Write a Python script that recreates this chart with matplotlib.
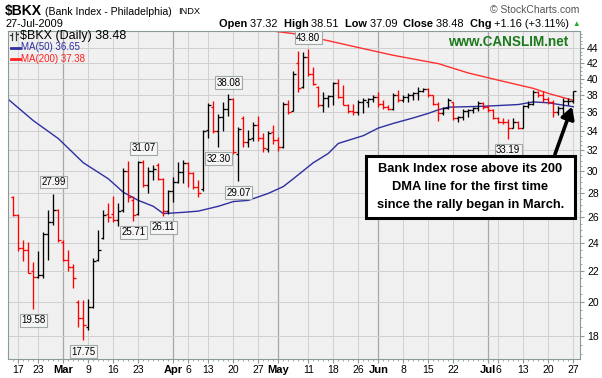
import numpy as np
import pandas as pd
import matplotlib
matplotlib.use("Agg")
import matplotlib.pyplot as plt
from matplotlib.patches import Rectangle, FancyArrowPatch
from matplotlib.lines import Line2D

plt.rcParams['font.family'] = ['Liberation Sans', 'DejaVu Sans']

# --- data ---
holidays = ["2009-02-16", "2009-04-10", "2009-05-25", "2009-07-03"]
dates = pd.bdate_range("2009-02-13", "2009-07-27")
dates = dates[~dates.isin(pd.to_datetime(holidays))]

opens = [27.7, 26.2, 23.6, 23.5, 22.0, 21.6, 21.7, 24.7, 25.6, 26.6,
         24.1, 22.8, 22.3, 20.0, 19.0, 18.5, 19.7, 22.8, 24.4, 26.3,
         26.3, 25.8, 26.6, 30.0, 27.4, 26.3, 30.9, 28.7, 30.0, 30.6,
         29.3, 26.5, 28.2, 29.0, 29.9, 30.8, 29.8, 28.6, 28.4, 34.1,
         36.6, 34.0, 35.5, 36.4, 37.5, 31.6, 35.4, 32.8, 33.3, 34.6,
         33.3, 32.1, 33.9, 33.1, 32.3, 37.0, 36.2, 42.0, 39.0, 42.8,
         40.6, 39.0, 36.8, 37.6, 37.9, 39.5, 37.8, 36.9, 36.2, 36.0,
         37.2, 37.2, 37.5, 37.8, 37.0, 36.6, 36.4, 38.0, 37.4, 37.8,
         38.0, 38.2, 38.5, 38.7, 38.0, 37.0, 35.9, 36.5, 37.2, 35.4,
         35.5, 36.2, 36.3, 36.5, 37.1, 36.6, 36.3, 35.4, 35.0, 34.9,
         34.3, 35.0, 34.3, 36.7, 37.0, 38.4, 38.0, 37.5, 37.2, 36.0,
         36.5, 37.3, 37.32]
highs = [27.8, 26.3, 24.2, 24.1, 22.6, 23.4, 24.8, 26.6, 27.99, 26.7,
         24.2, 23.5, 22.5, 20.1, 20.1, 20.2, 22.9, 25.0, 26.6, 27.2,
         27.8, 27.2, 30.3, 31.0, 27.8, 31.0, 31.07, 30.4, 30.6, 30.8,
         29.4, 28.3, 29.5, 30.9, 31.1, 30.9, 29.9, 29.2, 34.1, 37.1,
         37.3, 35.8, 37.2, 38.08, 37.6, 34.4, 35.6, 34.1, 34.9, 35.6,
         33.8, 34.0, 34.6, 33.4, 37.2, 37.4, 41.0, 43.6, 43.5, 43.80,
         41.5, 39.1, 38.4, 38.0, 39.6, 40.0, 39.2, 37.0, 37.0, 37.4,
         37.6, 37.6, 38.0, 38.4, 37.4, 36.8, 38.2, 38.6, 38.0, 38.2,
         38.4, 39.0, 38.8, 38.8, 38.0, 37.2, 36.6, 37.6, 37.2, 35.6,
         36.4, 36.4, 36.6, 37.3, 37.2, 36.8, 36.4, 35.5, 35.4, 35.3,
         35.4, 35.1, 36.8, 37.3, 38.6, 38.5, 38.5, 37.8, 37.4, 36.7,
         37.6, 37.6, 38.51]
lows = [26.1, 23.4, 22.7, 21.9, 19.58, 21.5, 21.5, 22.8, 25.4, 24.1,
        22.7, 22.0, 20.9, 18.5, 17.75, 18.3, 19.6, 22.7, 24.3, 25.6,
        25.6, 25.3, 26.4, 27.3, 25.71, 26.2, 28.6, 28.0, 29.2, 29.2,
        26.11, 26.3, 27.3, 28.9, 28.9, 28.6, 28.4, 27.7, 28.2, 33.3,
        33.8, 32.30, 34.0, 35.6, 31.6, 29.07, 32.3, 32.3, 33.0, 33.0,
        31.8, 31.8, 32.6, 31.9, 32.2, 35.8, 36.2, 38.4, 38.9, 40.3,
        39.2, 36.6, 36.1, 36.6, 36.8, 37.6, 36.8, 35.9, 35.7, 35.7,
        35.9, 36.6, 37.2, 36.6, 36.4, 36.3, 36.3, 37.2, 37.2, 37.2,
        37.4, 37.4, 38.4, 37.8, 36.8, 35.1, 35.7, 36.4, 35.2, 34.9,
        35.2, 35.5, 35.9, 36.2, 36.4, 36.1, 35.3, 34.8, 34.7, 33.19,
        34.3, 34.2, 34.3, 36.5, 36.9, 37.8, 37.2, 37.0, 35.5, 35.7,
        35.8, 36.9, 37.09]
closes = [26.2, 23.6, 23.5, 21.9, 21.6, 21.7, 24.7, 25.6, 26.6, 24.2,
          22.8, 22.3, 21.5, 19.0, 18.6, 19.7, 22.7, 23.5, 26.2, 26.0,
          25.8, 26.5, 30.0, 27.7, 26.2, 30.9, 28.7, 30.0, 30.2, 29.3,
          26.5, 28.2, 29.0, 29.9, 30.8, 29.8, 28.6, 28.0, 34.0, 36.8,
          34.0, 35.5, 36.4, 37.5, 31.8, 34.2, 32.8, 33.2, 34.6, 33.3,
          32.2, 33.8, 33.1, 32.3, 37.0, 36.1, 40.6, 38.8, 42.8, 40.6,
          39.3, 36.8, 37.6, 37.9, 39.5, 37.8, 36.9, 36.2, 36.0, 37.2,
          37.4, 37.5, 37.8, 37.0, 36.6, 36.4, 38.0, 37.4, 37.8, 38.0,
          38.2, 38.5, 38.7, 38.0, 37.0, 35.9, 36.5, 37.4, 35.4, 35.5,
          36.2, 36.3, 36.5, 37.1, 36.6, 36.3, 35.4, 35.0, 34.9, 34.3,
          35.0, 34.3, 36.7, 37.0, 38.4, 38.0, 37.5, 37.2, 36.0, 36.5,
          37.3, 37.32, 38.48]
prev_close_first = 27.8

ma50_bar = [-1, 4, 9, 14, 19, 22, 25, 28, 30, 34, 37, 41, 44, 47, 51, 54, 56, 60,
            63, 65, 70, 73, 76, 80, 83, 85, 87, 94, 101, 104, 107, 112]
ma50_val = [37.5, 35.1, 33.2, 30.8, 29.3, 28.1, 27.4, 26.9, 26.3, 26.4, 26.5, 26.9,
            27.3, 27.4, 28.0, 28.6, 29.3, 30.8, 31.7, 32.7, 33.5, 34.3, 34.8, 35.4,
            35.9, 36.3, 36.6, 36.7, 36.9, 37.2, 37.1, 36.65]
ma200_bar = [47, 56, 61, 70, 76, 85, 91, 97, 104, 107, 112]
ma200_val = [46.8, 46.0, 45.3, 43.9, 43.0, 41.9, 40.7, 39.8, 38.8, 38.2, 37.38]

# price flags: bar, value, above/below
flag_bar = [4, 8, 14, 24, 26, 30, 41, 43, 45, 59, 99]
flag_val = ["19.58", "27.99", "17.75", "25.71", "31.07", "26.11", "32.30", "38.08", "29.07", "43.80", "33.19"]
flag_up = [False, True, False, False, True, False, False, True, False, True, False]

tick_days = ["2009-02-17", "2009-02-23", "2009-03-02", "2009-03-09", "2009-03-16",
             "2009-03-23", "2009-04-01", "2009-04-06", "2009-04-13", "2009-04-20",
             "2009-04-27", "2009-05-01", "2009-05-11", "2009-05-18", "2009-05-26",
             "2009-06-01", "2009-06-08", "2009-06-15", "2009-06-22", "2009-07-01",
             "2009-07-06", "2009-07-13", "2009-07-20", "2009-07-27"]
tick_text = ["17", "23", "Mar", "9", "16", "23", "Apr", "6", "13", "20", "27", "May",
             "11", "18", "26", "Jun", "8", "15", "22", "Jul", "6", "13", "20", "27"]
y_ticks = list(range(18, 46, 2))

W, H = 602, 378
fig = plt.figure(figsize=(W / 100, H / 100), dpi=100)
fig.patch.set_facecolor("white")
renderer = fig.canvas.get_renderer()


def fx(px):
    return px / W


def fy(py):
    return 1 - py / H


def fit_text(x0, y0, s, width, **kw):
    # put a text and scale its size so it spans the given pixel width
    t = fig.text(fx(x0), fy(y0), s, va="center", **kw)
    w = t.get_window_extent(renderer).width
    t.set_fontsize(t.get_fontsize() * width / w)
    return t


ax = fig.add_axes([fx(8), fy(359), fx(580) - fx(8), fy(31) - fy(359)])
ax.set_facecolor("#f0f0f0")
ax.set_yscale("log")
ax.set_ylim(16.74, 46.37)
ax.set_xlim(-1.06, 113.34)

n = len(closes)
x = np.arange(n)
o, h, l, c = map(np.array, (opens, highs, lows, closes))
prev = np.concatenate([[prev_close_first], c[:-1]])
cols = np.where(c >= prev, "black", "red")

# grid
tick_pos = [dates.get_loc(pd.Timestamp(d)) for d in tick_days]
for p, t in zip(tick_pos, tick_text):
    month = not t.isdigit()
    ax.axvline(p, color="#a8a8a8" if month else "#cfcfcf", lw=0.9 if month else 0.7, zorder=0)
for yv in y_ticks:
    ax.axhline(yv, color="#cfcfcf", lw=0.7, zorder=0)

# OHLC bars
ax.vlines(x, l, h, colors=cols, lw=0.95, zorder=3)
ax.hlines(o, x - 0.45, x, colors=cols, lw=0.95, zorder=3)
ax.hlines(c, x, x + 0.45, colors=cols, lw=0.95, zorder=3)

# moving averages
ax.plot(ma50_bar, ma50_val, color="#2e2ea0", lw=1.0, zorder=2)
ax.plot(ma200_bar, ma200_val, color="#ff3030", lw=1.0, zorder=2)

# price flags
for b, v, up in zip(flag_bar, flag_val, flag_up):
    ax.annotate(v, (b, float(v)), xytext=(0, 8.3 if up else -8.3), textcoords="offset points",
                ha="center", va="center", fontsize=7, zorder=5,
                bbox=dict(boxstyle="square,pad=0.15", fc="#f6f6f6", ec="#a0a8a8", lw=0.8))

# axes styling
ax.yaxis.tick_right()
ax.set_yticks(y_ticks)
ax.set_yticklabels([str(v) for v in y_ticks], fontsize=7.5)
ax.yaxis.set_minor_locator(matplotlib.ticker.FixedLocator(np.arange(17, 46.5, 0.5)))
ax.yaxis.set_minor_formatter(matplotlib.ticker.NullFormatter())
ax.tick_params(axis="y", which="major", length=3, color="#8a9a9a", pad=2)
ax.tick_params(axis="y", which="minor", length=1.5, color="#8a9a9a")
ax.set_xticks(tick_pos)
ax.set_xticklabels(tick_text, fontsize=7.5)
for lab, t in zip(ax.get_xticklabels(), tick_text):
    if not t.isdigit():
        lab.set_fontweight("bold")
        lab.set_fontsize(8)
ax.set_xticks(x, minor=True)
ax.tick_params(axis="x", which="major", length=3, color="#8a9a9a", pad=1.5)
ax.tick_params(axis="x", which="minor", length=1.5, color="#8a9a9a")
for s in ax.spines.values():
    s.set_color("#8a9a9a")
    s.set_linewidth(0.8)

# header texts
fit_text(5, 11, r"\$BKX", 37, fontsize=12, fontweight="bold")
fit_text(45, 12, "(Bank Index - Philadelphia)", 127, fontsize=8)
fit_text(178, 12, "INDX", 22, fontsize=7)
fit_text(5, 24, "27-Jul-2009", 58, fontsize=8)
fit_text(490, 10, "\u00a9 StockCharts.com", 90, fontsize=8, color="#555555")

parts = [("Open ", True), ("37.32  ", False), ("High ", True), ("38.51  ", False),
         ("Low ", True), ("37.09  ", False), ("Close ", True), ("38.48  ", False),
         ("Chg ", True), ("+1.16 (+3.11%)", False)]
head = []
total = 0
for txt, bold in parts:
    tt = fig.text(0, fy(24), txt, fontsize=8.5, fontweight="bold" if bold else "normal", va="center")
    total += tt.get_window_extent(renderer).width
    head.append(tt)
scale = 351 / total
xpos = 219
for tt in head:
    tt.set_fontsize(8.5 * scale)
    tt.set_x(fx(xpos))
    xpos += tt.get_window_extent(renderer).width
fig.text(fx(576), fy(24), "\u25b2", fontsize=5.5, color="#22aa22", ha="center", va="center")

# legend inside plot
fig.add_artist(Line2D([fx(12), fx(12)], [fy(33), fy(40)], color="#333333", lw=0.9))
fig.add_artist(Line2D([fx(10), fx(12)], [fy(35), fy(35)], color="#333333", lw=0.9))
fig.add_artist(Line2D([fx(16), fx(16)], [fy(32), fy(40)], color="#333333", lw=0.9))
fig.add_artist(Line2D([fx(16), fx(18)], [fy(34), fy(34)], color="#333333", lw=0.9))
fit_text(20, 36, r"\$BKX (Daily) 38.48", 107, fontsize=8)
fig.add_artist(Line2D([fx(11), fx(20)], [fy(48), fy(48)], color="#2e2ea0", lw=2))
fit_text(21, 47.5, "MA(50) 36.65", 59, fontsize=8, color="#2e2ea0")
fig.add_artist(Line2D([fx(11), fx(20)], [fy(59), fy(59)], color="#ff2020", lw=2))
fit_text(21, 58.5, "MA(200) 37.38", 65, fontsize=8, color="#ff2020")

fit_text(448, 42, "www.CANSLIM.net", 120, fontsize=10, fontweight="bold", color="#1c7a1c")

# comment box and arrow
fig.add_artist(Rectangle((fx(366), fy(218)), fx(575) - fx(366), fy(156) - fy(218),
                         transform=fig.transFigure, fc="white", ec="black", lw=2.2, zorder=6))
box_lines = ["Bank Index rose above its 200", "DMA line for the first time",
             "since the rally began in March."]
for k, line in enumerate(box_lines):
    fig.text(fx(470.5), fy(169 + 18 * k), line, fontsize=9.3, fontweight="bold", ha="center",
             va="center", zorder=7)
fig.add_artist(FancyArrowPatch((fx(554), fy(157)), (fx(573), fy(104)), transform=fig.transFigure,
                               arrowstyle="-|>,head_length=7,head_width=4", lw=2.6,
                               color="black", zorder=7))

fig.savefig("out.png", dpi=100)
